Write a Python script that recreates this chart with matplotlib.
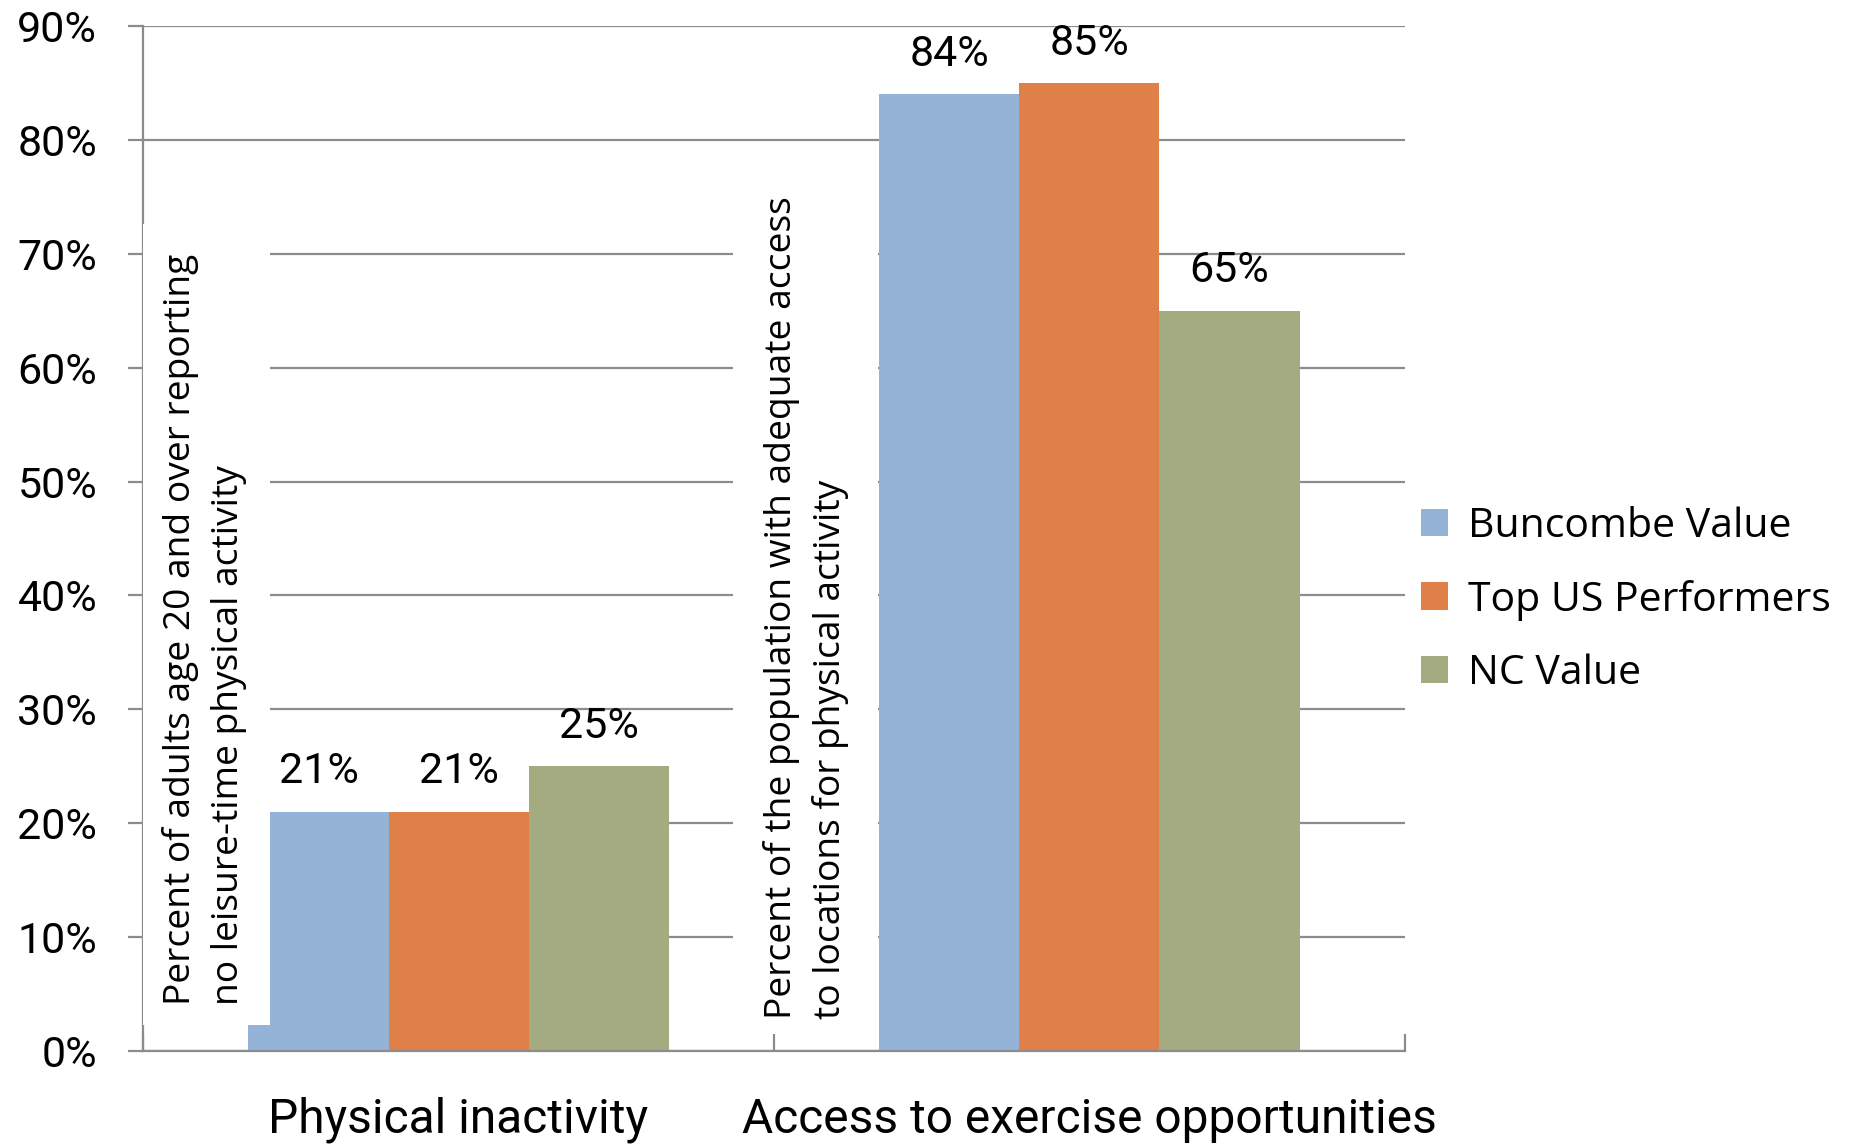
import matplotlib
matplotlib.use("Agg")
import matplotlib.pyplot as plt
from matplotlib import font_manager
from matplotlib.patches import Rectangle
import numpy as np

categories = ["Physical inactivity", "Access to exercise opportunities"]
series_names = ["Buncombe Value", "Top US Performers", "NC Value"]
buncombe = [21, 84]
top_us = [21, 85]
nc_value = [25, 65]
notes = ["Percent of adults age 20 and over reporting\nno leisure-time physical activity",
         "Percent of the population with adequate access\nto locations for physical activity"]
y_ticks = [0, 10, 20, 30, 40, 50, 60, 70, 80, 90]

colors = ["#95B3D7", "#DE8048", "#A5AB80"]
grid_col = "#8C8C8C"

installed = {f.name for f in font_manager.fontManager.ttflist}
narrow = "Liberation Sans Narrow" if "Liberation Sans Narrow" in installed else "Roboto"
plain = "Open Sans"

fig = plt.figure(figsize=(18.51, 11.46), dpi=100)
ax = fig.add_axes([0.0773, 0.0829, 0.759 - 0.0773, 0.9773 - 0.0829])

x = np.arange(len(categories))
w = 0.222
values = [buncombe, top_us, nc_value]
for i, (vals, name, c) in enumerate(zip(values, series_names, colors)):
    pos = x + (i - 1) * w
    ax.bar(pos, vals, width=w, color=c, label=name, zorder=2)
    for px, v in zip(pos, vals):
        ax.annotate(f"{v}%", (px, v), xytext=(0, 14), textcoords="offset points",
                    ha="center", va="bottom", fontsize=31, family=narrow, zorder=5)

ax.set_xlim(-0.5, 1.5)
ax.set_ylim(0, 90)
ax.set_yticks(y_ticks)
ax.set_yticklabels([f"{t}%" for t in y_ticks], family=narrow, fontsize=31)
ax.yaxis.grid(True, color=grid_col, linewidth=1.6, zorder=0)
ax.set_axisbelow(True)

ax.set_xticks([-0.5, 0.5, 1.5])
ax.set_xticklabels([])
ax.set_xticks(x, minor=True)
ax.set_xticklabels(categories, minor=True, family=narrow, fontsize=34.5)
ax.tick_params(axis="x", which="minor", length=0, pad=33)
ax.tick_params(axis="x", which="major", direction="in", length=12, width=1.6, color=grid_col)
ax.tick_params(axis="y", direction="out", length=11, width=1.6, color=grid_col, pad=22)

for s in ["top", "right"]:
    ax.spines[s].set_visible(False)
for s in ["left", "bottom"]:
    ax.spines[s].set_color(grid_col)
    ax.spines[s].set_linewidth(1.6)

# white boxes behind the rotated notes, covering grid and part of bars
boxes = [(-0.5, 2.28, 0.2013, 70.3), (0.435, 1.49, 0.23, 75.4)]
for bx, by, bw, bh in boxes:
    ax.add_patch(Rectangle((bx, by), bw, bh, facecolor="white", edgecolor="none", zorder=3))

note_pos = [(-0.4025, 4.0), (0.5507, 2.8)]
for (nx, ny), t in zip(note_pos, notes):
    ax.text(nx, ny, t, rotation=90, ha="center", va="bottom", multialignment="left",
            fontsize=26.7, family=plain, linespacing=1.42, zorder=4)

leg = ax.legend(loc="center left", bbox_to_anchor=(1.0, 0.44), frameon=False,
                prop={"family": plain, "size": 29.5}, handlelength=0.65, handleheight=0.65,
                handletextpad=0.5, labelspacing=0.8, borderaxespad=0.0)

fig.savefig("out.png", dpi=100)
